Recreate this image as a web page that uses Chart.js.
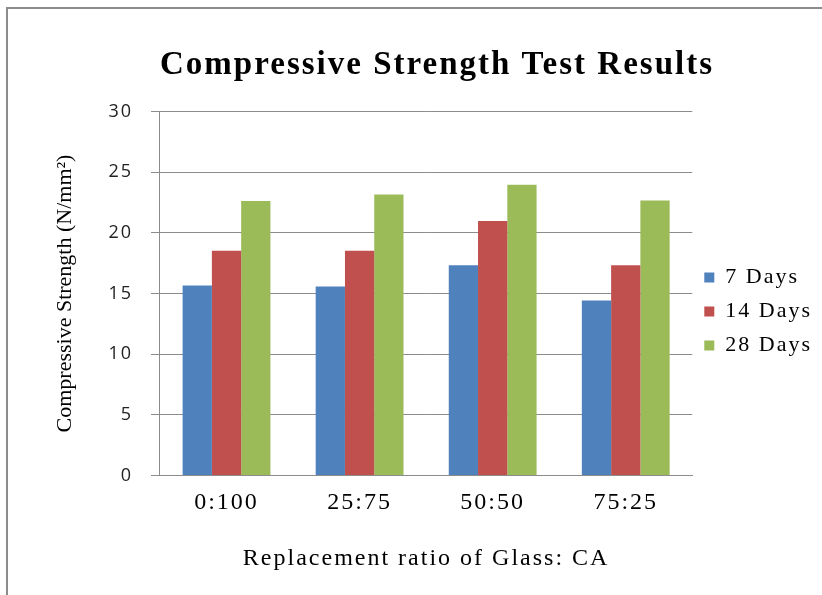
<!DOCTYPE html>
<html>
<head>
<meta charset="utf-8">
<script src="https://cdn.jsdelivr.net/npm/chart.js@4"></script>
<style>
  body { margin: 0; background: #fff; }
  #frame { position: absolute; left: 6px; top: 7px; width: 840px; height: 610px; border: 2px solid #8c8c8c; }
  #wrap { position: absolute; left: 0; top: 0; width: 822px; height: 595px; }
</style>
</head>
<body>
<div id="frame"></div>
<div id="wrap"><canvas id="myChart" width="822" height="595"></canvas></div>
<script>
// replacement ratio of glass : coarse aggregate
var ratios = ["0:100", "25:75", "50:50", "75:25"];
var days7 = [15.66, 15.57, 17.32, 14.43];
var days14 = [18.52, 18.52, 20.98, 17.32];
var days28 = [22.62, 23.16, 23.96, 22.67];
var yTicks = [0, 5, 10, 15, 20, 25, 30];

var barColors = ["#4F81BD", "#C0504D", "#9BBB59"];
var serif = "'Liberation Serif', 'Times New Roman', serif";

// the original text is spread out a bit, canvas letterSpacing does that
var spacing = {
  id: "spacing",
  beforeLayout: function (chart) { chart.ctx.letterSpacing = "2px"; },
  beforeDraw: function (chart) { chart.ctx.letterSpacing = "2px"; },
  afterLayout: function (chart) {
    var y = chart.scales.y;
    if (y._plainTitle) return;
    var orig = y.drawTitle;
    y.drawTitle = function () {
      var ctx = this.ctx;
      ctx.letterSpacing = "0px";
      orig.apply(this, arguments);
      ctx.letterSpacing = "2px";
    };
    y._plainTitle = true;
  }
};

new Chart("myChart", {
  type: "bar",
  data: {
    labels: ratios,
    datasets: [
      { label: "7 Days", data: days7, backgroundColor: barColors[0] },
      { label: "14 Days", data: days14, backgroundColor: barColors[1] },
      { label: "28 Days", data: days28, backgroundColor: barColors[2] }
    ]
  },
  plugins: [spacing],
  options: {
    responsive: false,
    animation: false,
    datasets: { bar: { barPercentage: 1, categoryPercentage: 0.66 } },
    layout: { padding: { left: 52, right: 0, top: 46, bottom: 18 } },
    plugins: {
      title: {
        display: true,
        text: "Compressive Strength Test Results",
        color: "#000",
        font: { family: serif, size: 33, weight: "bold" },
        padding: { top: 0, bottom: 26 }
      },
      legend: {
        position: "right",
        labels: {
          boxWidth: 10,
          boxHeight: 10,
          padding: 12,
          color: "#000",
          font: { family: serif, size: 22 }
        }
      },
      tooltip: { enabled: false }
    },
    scales: {
      x: {
        grid: { display: false },
        border: { color: "#8c8c8c" },
        ticks: { color: "#000", padding: 5, font: { family: serif, size: 24 } },
        title: {
          display: true,
          text: "Replacement ratio of Glass: CA",
          color: "#000",
          font: { family: serif, size: 24 },
          padding: { top: 22, bottom: 4 }
        }
      },
      y: {
        min: 0,
        max: 30,
        afterBuildTicks: function (axis) { axis.ticks = yTicks.map(function (v) { return { value: v }; }); },
        grid: { color: "#8c8c8c", tickLength: 9 },
        border: { color: "#8c8c8c" },
        ticks: { color: "#222", padding: 18, font: { family: "'Open Sans', sans-serif", size: 18 } },
        title: {
          display: true,
          text: "Compressive Strength (N/mm²)",
          color: "#000",
          font: { family: serif, size: 22 },
          padding: { top: 0, bottom: 12 }
        }
      }
    }
  }
});
</script>
</body>
</html>
